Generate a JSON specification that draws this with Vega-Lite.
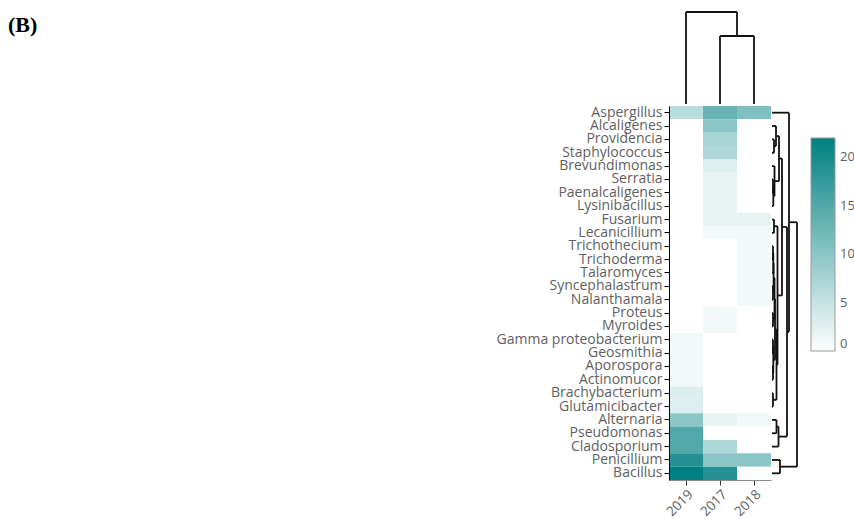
{
  "$schema": "https://vega.github.io/schema/vega-lite/v6.json",
  "padding": {"left": 8, "top": 11, "right": 5, "bottom": 5},
  "title": {
    "text": "(B)",
    "anchor": "start",
    "font": "Liberation Serif",
    "fontSize": 22,
    "fontWeight": "bold",
    "color": "#000000",
    "baseline": "alphabetic",
    "offset": -43,
    "dx": -488
  },
  "datasets": {
    "cells": [
      {"genus": "Aspergillus", "year": "2019", "count": 6},
      {"genus": "Aspergillus", "year": "2017", "count": 13},
      {"genus": "Aspergillus", "year": "2018", "count": 11},
      {"genus": "Alcaligenes", "year": "2019", "count": 0},
      {"genus": "Alcaligenes", "year": "2017", "count": 10},
      {"genus": "Alcaligenes", "year": "2018", "count": 0},
      {"genus": "Providencia", "year": "2019", "count": 0},
      {"genus": "Providencia", "year": "2017", "count": 7.5},
      {"genus": "Providencia", "year": "2018", "count": 0},
      {"genus": "Staphylococcus", "year": "2019", "count": 0},
      {"genus": "Staphylococcus", "year": "2017", "count": 7},
      {"genus": "Staphylococcus", "year": "2018", "count": 0},
      {"genus": "Brevundimonas", "year": "2019", "count": 0},
      {"genus": "Brevundimonas", "year": "2017", "count": 3},
      {"genus": "Brevundimonas", "year": "2018", "count": 0},
      {"genus": "Serratia", "year": "2019", "count": 0},
      {"genus": "Serratia", "year": "2017", "count": 2},
      {"genus": "Serratia", "year": "2018", "count": 0},
      {"genus": "Paenalcaligenes", "year": "2019", "count": 0},
      {"genus": "Paenalcaligenes", "year": "2017", "count": 2},
      {"genus": "Paenalcaligenes", "year": "2018", "count": 0},
      {"genus": "Lysinibacillus", "year": "2019", "count": 0},
      {"genus": "Lysinibacillus", "year": "2017", "count": 2},
      {"genus": "Lysinibacillus", "year": "2018", "count": 0},
      {"genus": "Fusarium", "year": "2019", "count": 0},
      {"genus": "Fusarium", "year": "2017", "count": 2},
      {"genus": "Fusarium", "year": "2018", "count": 2},
      {"genus": "Lecanicillium", "year": "2019", "count": 0},
      {"genus": "Lecanicillium", "year": "2017", "count": 1},
      {"genus": "Lecanicillium", "year": "2018", "count": 1},
      {"genus": "Trichothecium", "year": "2019", "count": 0},
      {"genus": "Trichothecium", "year": "2017", "count": 0},
      {"genus": "Trichothecium", "year": "2018", "count": 1},
      {"genus": "Trichoderma", "year": "2019", "count": 0},
      {"genus": "Trichoderma", "year": "2017", "count": 0},
      {"genus": "Trichoderma", "year": "2018", "count": 1},
      {"genus": "Talaromyces", "year": "2019", "count": 0},
      {"genus": "Talaromyces", "year": "2017", "count": 0},
      {"genus": "Talaromyces", "year": "2018", "count": 1},
      {"genus": "Syncephalastrum", "year": "2019", "count": 0},
      {"genus": "Syncephalastrum", "year": "2017", "count": 0},
      {"genus": "Syncephalastrum", "year": "2018", "count": 1},
      {"genus": "Nalanthamala", "year": "2019", "count": 0},
      {"genus": "Nalanthamala", "year": "2017", "count": 0},
      {"genus": "Nalanthamala", "year": "2018", "count": 1},
      {"genus": "Proteus", "year": "2019", "count": 0},
      {"genus": "Proteus", "year": "2017", "count": 1},
      {"genus": "Proteus", "year": "2018", "count": 0},
      {"genus": "Myroides", "year": "2019", "count": 0},
      {"genus": "Myroides", "year": "2017", "count": 1},
      {"genus": "Myroides", "year": "2018", "count": 0},
      {"genus": "Gamma proteobacterium", "year": "2019", "count": 1},
      {"genus": "Gamma proteobacterium", "year": "2017", "count": 0},
      {"genus": "Gamma proteobacterium", "year": "2018", "count": 0},
      {"genus": "Geosmithia", "year": "2019", "count": 1},
      {"genus": "Geosmithia", "year": "2017", "count": 0},
      {"genus": "Geosmithia", "year": "2018", "count": 0},
      {"genus": "Aporospora", "year": "2019", "count": 1},
      {"genus": "Aporospora", "year": "2017", "count": 0},
      {"genus": "Aporospora", "year": "2018", "count": 0},
      {"genus": "Actinomucor", "year": "2019", "count": 1},
      {"genus": "Actinomucor", "year": "2017", "count": 0},
      {"genus": "Actinomucor", "year": "2018", "count": 0},
      {"genus": "Brachybacterium", "year": "2019", "count": 3},
      {"genus": "Brachybacterium", "year": "2017", "count": 0},
      {"genus": "Brachybacterium", "year": "2018", "count": 0},
      {"genus": "Glutamicibacter", "year": "2019", "count": 3},
      {"genus": "Glutamicibacter", "year": "2017", "count": 0},
      {"genus": "Glutamicibacter", "year": "2018", "count": 0},
      {"genus": "Alternaria", "year": "2019", "count": 10},
      {"genus": "Alternaria", "year": "2017", "count": 2},
      {"genus": "Alternaria", "year": "2018", "count": 1},
      {"genus": "Pseudomonas", "year": "2019", "count": 15},
      {"genus": "Pseudomonas", "year": "2017", "count": 0},
      {"genus": "Pseudomonas", "year": "2018", "count": 0},
      {"genus": "Cladosporium", "year": "2019", "count": 15},
      {"genus": "Cladosporium", "year": "2017", "count": 7},
      {"genus": "Cladosporium", "year": "2018", "count": 0},
      {"genus": "Penicillium", "year": "2019", "count": 19},
      {"genus": "Penicillium", "year": "2017", "count": 10},
      {"genus": "Penicillium", "year": "2018", "count": 10},
      {"genus": "Bacillus", "year": "2019", "count": 22},
      {"genus": "Bacillus", "year": "2017", "count": 19},
      {"genus": "Bacillus", "year": "2018", "count": 0}
    ],
    "rowTree": [
      {"upper": 2, "upperH": 0, "lower": 3, "lowerH": 0, "merge": 2},
      {"upper": 1, "upperH": 0, "lower": 2.5, "lowerH": 2, "merge": 4},
      {"upper": 5, "upperH": 0, "lower": 6, "lowerH": 0, "merge": 1},
      {"upper": 5.5, "upperH": 1, "lower": 7, "lowerH": 0, "merge": 1.3},
      {"upper": 4, "upperH": 0, "lower": 6.25, "lowerH": 1.3, "merge": 2.5},
      {"upper": 1.75, "upperH": 4, "lower": 5.125, "lowerH": 2.5, "merge": 7},
      {"upper": 10, "upperH": 0, "lower": 11, "lowerH": 0, "merge": 1},
      {"upper": 10.5, "upperH": 1, "lower": 12, "lowerH": 0, "merge": 1.3},
      {"upper": 13, "upperH": 0, "lower": 14, "lowerH": 0, "merge": 1},
      {"upper": 11.25, "upperH": 1.3, "lower": 13.5, "lowerH": 1, "merge": 1.6},
      {"upper": 15, "upperH": 0, "lower": 16, "lowerH": 0, "merge": 1},
      {"upper": 17, "upperH": 0, "lower": 18, "lowerH": 0, "merge": 1},
      {"upper": 19, "upperH": 0, "lower": 20, "lowerH": 0, "merge": 1},
      {"upper": 17.5, "upperH": 1, "lower": 19.5, "lowerH": 1, "merge": 1.3},
      {"upper": 21, "upperH": 0, "lower": 22, "lowerH": 0, "merge": 1},
      {"upper": 8, "upperH": 0, "lower": 9, "lowerH": 0, "merge": 2},
      {"upper": 12.375, "upperH": 1.6, "lower": 15.5, "lowerH": 1, "merge": 2.5},
      {"upper": 13.938, "upperH": 2.5, "lower": 18.5, "lowerH": 1.3, "merge": 3},
      {"upper": 16.219, "upperH": 3, "lower": 21.5, "lowerH": 1, "merge": 4.5},
      {"upper": 8.5, "upperH": 2, "lower": 18.859, "lowerH": 4.5, "merge": 5.5},
      {"upper": 3.438, "upperH": 7, "lower": 13.68, "lowerH": 5.5, "merge": 10},
      {"upper": 23, "upperH": 0, "lower": 24, "lowerH": 0, "merge": 4.5},
      {"upper": 23.5, "upperH": 4.5, "lower": 25, "lowerH": 0, "merge": 6.5},
      {"upper": 8.559, "upperH": 10, "lower": 24.25, "lowerH": 6.5, "merge": 15},
      {"upper": 0, "upperH": 0, "lower": 16.404, "lowerH": 15, "merge": 17},
      {"upper": 26, "upperH": 0, "lower": 27, "lowerH": 0, "merge": 8},
      {"upper": 8.202, "upperH": 17, "lower": 26.5, "lowerH": 8, "merge": 25}
    ],
    "colTree": [
      {"left": 1, "leftH": 0, "right": 2, "rightH": 0, "merge": 68},
      {"left": 0, "leftH": 0, "right": 1.5, "rightH": 68, "merge": 92}
    ]
  },
  "columns": 2,
  "spacing": 0,
  "align": "each",
  "bounds": "full",
  "resolve": {"scale": {"x": "independent", "y": "independent"}},
  "concat": [
    {
      "width": 102,
      "height": 92,
      "data": {"name": "colTree"},
      "layer": [
        {
          "mark": {"type": "rule", "color": "#111111", "strokeWidth": 1.8},
          "encoding": {
            "x": {"field": "left", "type": "quantitative", "axis": null, "scale": {"domain": [-0.5, 2.5], "nice": false, "zero": false}},
            "y": {"field": "leftH", "type": "quantitative", "axis": null, "scale": {"domain": [0, 92], "nice": false}},
            "y2": {"field": "merge"}
          }
        },
        {
          "mark": {"type": "rule", "color": "#111111", "strokeWidth": 1.8},
          "encoding": {
            "x": {"field": "right", "type": "quantitative", "axis": null, "scale": {"domain": [-0.5, 2.5], "nice": false, "zero": false}},
            "y": {"field": "rightH", "type": "quantitative", "axis": null, "scale": {"domain": [0, 92], "nice": false}},
            "y2": {"field": "merge"}
          }
        },
        {
          "mark": {"type": "rule", "color": "#111111", "strokeWidth": 1.8},
          "encoding": {
            "x": {"field": "left", "type": "quantitative", "axis": null, "scale": {"domain": [-0.5, 2.5], "nice": false, "zero": false}},
            "x2": {"field": "right"},
            "y": {"field": "merge", "type": "quantitative", "axis": null, "scale": {"domain": [0, 92], "nice": false}}
          }
        }
      ]
    },
    {
      "width": 1,
      "height": 1,
      "data": {"values": []},
      "mark": "point",
      "encoding": {}
    },
    {
      "width": 102,
      "height": 374,
      "data": {"name": "cells"},
      "mark": {"type": "rect"},
      "encoding": {
        "x": {
          "field": "year",
          "type": "nominal",
          "sort": ["2019", "2017", "2018"],
          "scale": {"paddingInner": 0, "paddingOuter": 0},
          "axis": {
            "title": null,
            "labelAngle": -45,
            "labelFont": "Open Sans",
            "labelFontSize": 13.5,
            "labelColor": "#5f5f5f",
            "domainColor": "#8c8c8c",
            "tickColor": "#333333",
            "tickSize": 5
          }
        },
        "y": {
          "field": "genus",
          "type": "nominal",
          "sort": null,
          "scale": {"paddingInner": 0, "paddingOuter": 0},
          "axis": {
            "title": null,
            "labelFont": "Open Sans",
            "labelFontSize": 14,
            "labelColor": "#5f5f5f",
            "domainColor": "#000000",
            "tickColor": "#000000",
            "tickSize": 5,
            "labelPadding": 2
          }
        },
        "color": {
          "field": "count",
          "type": "quantitative",
          "scale": {"domain": [0, 22], "range": ["#ffffff", "#008080"], "interpolate": "rgb"},
          "legend": {
            "title": null,
            "orient": "none",
            "legendX": 142,
            "legendY": 126,
            "direction": "vertical",
            "gradientLength": 213,
            "gradientThickness": 24,
            "gradientStrokeColor": "#999999",
            "gradientStrokeWidth": 1,
            "values": [0, 5, 10, 15, 20],
            "labelFont": "Open Sans",
            "labelFontSize": 13,
            "labelColor": "#5f5f5f",
            "labelOffset": 5
          }
        }
      }
    },
    {
      "width": 26,
      "height": 374,
      "data": {"name": "rowTree"},
      "layer": [
        {
          "mark": {"type": "rule", "color": "#111111", "strokeWidth": 1.8},
          "encoding": {
            "x": {"field": "upperH", "type": "quantitative", "axis": null, "scale": {"domain": [0, 26], "nice": false}},
            "x2": {"field": "merge"},
            "y": {"field": "upper", "type": "quantitative", "axis": null, "scale": {"domain": [-0.5, 27.5], "reverse": true, "nice": false, "zero": false}}
          }
        },
        {
          "mark": {"type": "rule", "color": "#111111", "strokeWidth": 1.8},
          "encoding": {
            "x": {"field": "lowerH", "type": "quantitative", "axis": null, "scale": {"domain": [0, 26], "nice": false}},
            "x2": {"field": "merge"},
            "y": {"field": "lower", "type": "quantitative", "axis": null, "scale": {"domain": [-0.5, 27.5], "reverse": true, "nice": false, "zero": false}}
          }
        },
        {
          "mark": {"type": "rule", "color": "#111111", "strokeWidth": 1.8},
          "encoding": {
            "x": {"field": "merge", "type": "quantitative", "axis": null, "scale": {"domain": [0, 26], "nice": false}},
            "y": {"field": "upper", "type": "quantitative", "axis": null, "scale": {"domain": [-0.5, 27.5], "reverse": true, "nice": false, "zero": false}},
            "y2": {"field": "lower"}
          }
        }
      ]
    }
  ],
  "config": {
    "view": {"stroke": null},
    "font": "Open Sans"
  }
}
